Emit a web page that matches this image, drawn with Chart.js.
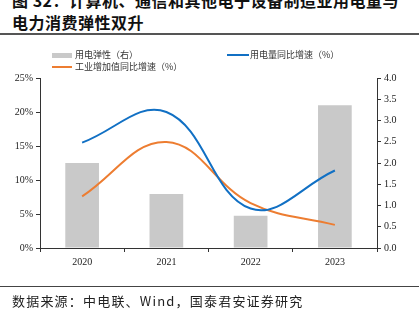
<!DOCTYPE html>
<html>
<head>
<meta charset="utf-8">
<script src="https://cdn.jsdelivr.net/npm/chart.js@4"></script>
<style>
  body { margin: 0; width: 419px; height: 324px; overflow: hidden; background: #fff; position: relative; font-family: "Noto Sans CJK SC", sans-serif; }
  #title { position: absolute; left: 12px; top: -11px; width: 420px; font-size: 16px; font-weight: bold; line-height: 22px; color: #111; white-space: nowrap; letter-spacing: 0.5px; }
  .rule { position: absolute; left: 0; width: 419px; background: #555; }
  #chartBox { position: absolute; left: 0; top: 0; width: 419px; height: 324px; }
  .lg { position: absolute; font-size: 9px; color: #333; line-height: 12px; white-space: nowrap; }
  .sw { position: absolute; }
  #source { position: absolute; left: 12px; top: 292px; font-size: 13px; line-height: 18px; color: #222; white-space: nowrap; letter-spacing: 1.2px; }
</style>
</head>
<body>
<div id="title">图 32：计算机、通信和其他电子设备制造业用电量与<br>电力消费弹性双升</div>
<div class="rule" style="top:33px;height:2px;"></div>
<div id="chartBox"><canvas id="combo" width="419" height="324"></canvas></div>

<div class="sw" style="left:52px;top:53px;width:20px;height:5px;background:#c9c9c9;"></div>
<div class="lg" style="left:75px;top:49px;">用电弹性（右）</div>
<div class="sw" style="left:52px;top:66px;width:20px;height:2px;background:#ed7d31;"></div>
<div class="lg" style="left:75px;top:61px;">工业增加值同比增速（%）</div>
<div class="sw" style="left:227px;top:54px;width:22px;height:2px;background:#1170c4;"></div>
<div class="lg" style="left:250px;top:49px;">用电量同比增速（%）</div>

<div class="rule" style="top:286px;height:1px;background:#444;"></div>
<div id="source">数据来源：中电联、Wind，国泰君安证券研究</div>

<script>
const years = ['2020', '2021', '2022', '2023'];
const elasticity = [2.0, 1.27, 0.76, 3.36];        // 用电弹性（右）
const powerGrowth = [15.5, 20.0, 5.8, 11.4];        // 用电量同比增速（%）
const industryGrowth = [7.6, 15.6, 6.6, 3.4];       // 工业增加值同比增速（%）

const axisColor = '#333';
const tickFont = { family: 'Liberation Serif', size: 10 };

const canvas = document.getElementById('combo');
const ctx = canvas.getContext('2d');

new Chart(ctx, {
    data: {
        labels: years,
        datasets: [
            {
                type: 'line',
                label: '用电量同比增速（%）',
                data: powerGrowth,
                yAxisID: 'y',
                borderColor: '#1170c4',
                borderWidth: 2,
                pointRadius: 0,
                tension: 0.4,
                fill: false,
                order: 1
            },
            {
                type: 'line',
                label: '工业增加值同比增速（%）',
                data: industryGrowth,
                yAxisID: 'y',
                borderColor: '#ed7d31',
                borderWidth: 2,
                pointRadius: 0,
                tension: 0.4,
                fill: false,
                order: 2
            },
            {
                type: 'bar',
                label: '用电弹性（右）',
                data: elasticity,
                yAxisID: 'y1',
                backgroundColor: '#c9c9c9',
                categoryPercentage: 1,
                barPercentage: 0.4,
                order: 3
            }
        ]
    },
    options: {
        responsive: false,
        animation: false,
        layout: { padding: { left: 0, right: 0, top: 78, bottom: 50 } },
        plugins: {
            legend: { display: false },
            tooltip: { enabled: false }
        },
        scales: {
            x: {
                offset: true,
                grid: { offset: true, drawOnChartArea: false, drawTicks: true, tickLength: 4, color: axisColor },
                border: { color: axisColor, width: 1 },
                ticks: { color: '#222', font: tickFont, padding: 4 },
                afterFit: (scale) => { scale.height = 26; }
            },
            y: {
                position: 'left',
                min: 0,
                max: 25,
                grid: { drawOnChartArea: false, tickLength: 4, color: axisColor },
                border: { color: axisColor, width: 1 },
                ticks: {
                    stepSize: 5,
                    color: '#222',
                    font: tickFont,
                    padding: 3,
                    callback: (v) => v + '%'
                },
                afterFit: (scale) => { scale.width = 40; }
            },
            y1: {
                position: 'right',
                min: 0,
                max: 4,
                grid: { drawOnChartArea: false, tickLength: 4, color: axisColor },
                border: { color: axisColor, width: 1 },
                ticks: {
                    stepSize: 0.5,
                    color: '#222',
                    font: tickFont,
                    padding: 3,
                    callback: (v) => v.toFixed(1)
                },
                afterFit: (scale) => { scale.width = 42; }
            }
        }
    }
});
</script>
</body>
</html>
